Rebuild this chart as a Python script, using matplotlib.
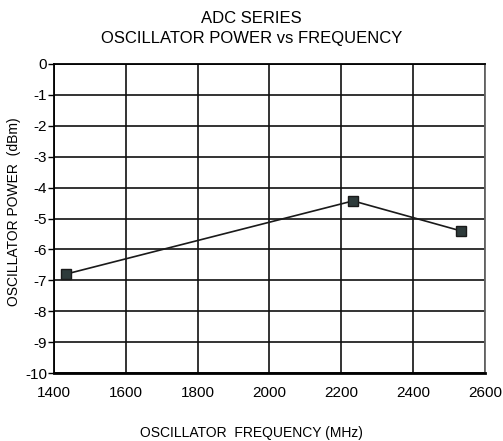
import matplotlib.pyplot as plt

plt.rcParams['font.family'] = ['Liberation Sans', 'DejaVu Sans']
plt.rcParams['axes.unicode_minus'] = False

# data
freq_mhz = [1433, 2233, 2533]
power_dbm = [-6.8, -4.43, -5.4]
x_ticks = [1400, 1600, 1800, 2000, 2200, 2400, 2600]
y_ticks = [0, -1, -2, -3, -4, -5, -6, -7, -8, -9, -10]

fig = plt.figure(figsize=(5.03, 4.41), dpi=100)
ax = fig.add_axes([0.107, 0.154, 0.857, 0.701])

ax.plot(freq_mhz, power_dbm, color='#1a1a1a', linewidth=1.2, marker='s',
        markersize=7, markerfacecolor='#2e3b3b', markeredgecolor='#1a1a1a', zorder=3)

ax.set_xlim(1400, 2600)
ax.set_ylim(-10, 0)
ax.set_xticks(x_ticks)
ax.set_yticks(y_ticks)
ax.grid(True, color='#111111', linewidth=1.2)
ax.tick_params(axis='x', length=0, labelsize=11, pad=9)
ax.tick_params(axis='y', length=4, width=1, labelsize=11, pad=1)
for s in ax.spines.values():
    s.set_linewidth(1.3)
ax.spines['right'].set_color('#666666')
ax.spines['bottom'].set_linewidth(2)

fig.text(0.5, 0.958, 'ADC SERIES', ha='center', va='center', fontsize=12)
fig.text(0.5, 0.913, 'OSCILLATOR POWER vs FREQUENCY', ha='center', va='center', fontsize=12)
fig.text(0.5, 0.018, 'OSCILLATOR  FREQUENCY (MHz)', ha='center', va='center', fontsize=10)
fig.text(0.028, 0.52, 'OSCILLATOR POWER  (dBm)', ha='center', va='center',
         rotation=90, fontsize=10)

fig.savefig('out.png', dpi=100)
